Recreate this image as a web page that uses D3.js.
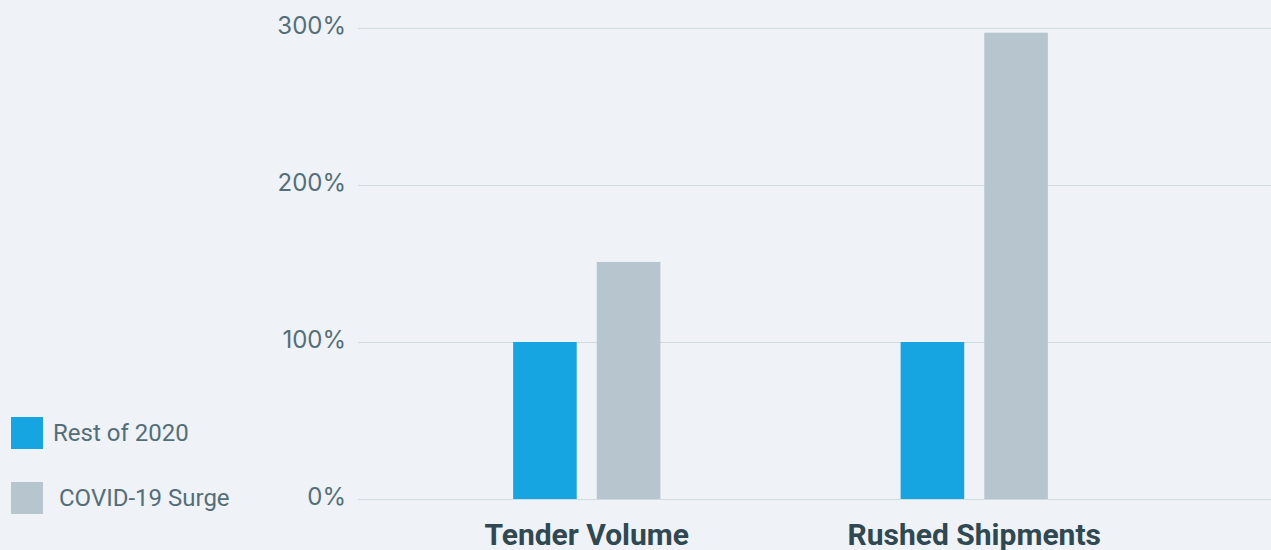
<!DOCTYPE html>
<html><head><meta charset="utf-8">
<script src="https://cdn.jsdelivr.net/npm/d3@7"></script>
<style>
html,body{margin:0;padding:0;background:#eff2f7;}
svg{display:block;font-family:Roboto, "Open Sans", sans-serif;}
</style></head>
<body><svg id="c" width="1271" height="550"></svg>
<script>
const categories = ["Tender Volume", "Rushed Shipments"];
const seriesNames = ["Rest of 2020", "COVID-19 Surge"];
const rest2020 = [100, 100];
const covidSurge = [151, 297];
const yTicks = [0, 100, 200, 300];
const colors = ["#17a5e2", "#b7c5ce"];

const svg = d3.select("#c");
svg.append("rect").attr("width",1271).attr("height",550).attr("fill","#eff2f7");

const y = d3.scaleLinear().domain([0,300]).range([499,28]);
const x0 = d3.scaleBand().domain(categories).range([393,1168]).paddingInner(0.62).paddingOuter(0.31);
const x1 = d3.scaleBand().domain(seriesNames).range([0,x0.bandwidth()]).paddingInner(0.24);

// grid
const yAxis = d3.axisLeft(y).tickValues(yTicks).tickFormat(d=>d+"%").tickSize(-(1271-358)).tickPadding(12);
const ga = svg.append("g").attr("transform","translate(358,0)").call(yAxis);
ga.select(".domain").remove();
ga.selectAll(".tick line").attr("stroke","#cfdae1").attr("stroke-width",1);
ga.selectAll(".tick text").attr("fill","#546e78").attr("font-size",24).attr("font-family","Inter, Roboto, sans-serif").attr("dy","0.21em");

const data = categories.map((c,i)=>({cat:c, vals:[rest2020[i], covidSurge[i]]}));
const g = svg.append("g");
data.forEach(d=>{
  d.vals.forEach((v,j)=>{
    g.append("rect")
      .attr("x", x0(d.cat)+x1(seriesNames[j]))
      .attr("width", x1.bandwidth())
      .attr("y", y(v))
      .attr("height", y(0)-y(v))
      .attr("fill", colors[j]);
  });
});

// x labels
const xAxis = d3.axisBottom(x0).tickSize(0).tickPadding(25);
const gx = svg.append("g").attr("transform","translate(0,499)").call(xAxis);
gx.select(".domain").remove();
gx.selectAll(".tick text").attr("fill","#2f4851").attr("font-size",30).attr("font-weight","bold").attr("font-family","Roboto, sans-serif").attr("dy","0.71em");

// legend
const leg = svg.append("g");
const legY = [417, 482];
const legTx = [53, 59];
seriesNames.forEach((s,i)=>{
  leg.append("rect").attr("x",11).attr("y",legY[i]).attr("width",32).attr("height",32).attr("fill",colors[i]);
  leg.append("text").attr("x",legTx[i]).attr("y",legY[i]+16).attr("dy","0.35em")
    .attr("fill","#546e78").attr("font-size",24).text(s);
});
</script></body></html>
